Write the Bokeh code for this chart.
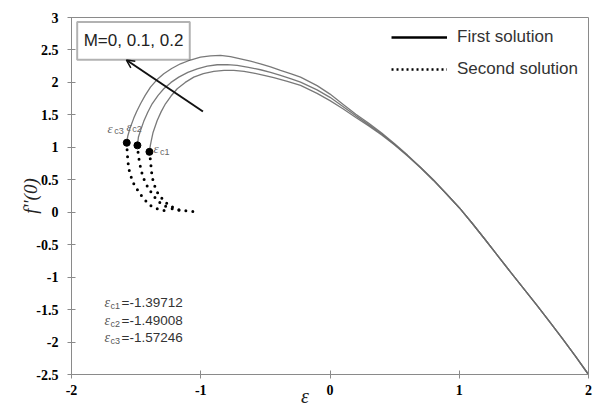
from bokeh.plotting import figure
from bokeh.models import (Range1d, FixedTicker, CustomJSTickFormatter, Legend, LegendItem,
                          Arrow, OpenHead, BoxAnnotation, Label)
from bokeh.embed import file_html
from bokeh.resources import INLINE
from bokeh.core.properties import value

# ---------------- data ----------------
M_values = [0, 0.1, 0.2]
eps_c = [-1.39712, -1.49008, -1.57246]
f_c = [0.93, 1.03, 1.07]
crit_names = ["c1", "c2", "c3"]

x_ticks = [-2, -1, 0, 1, 2]
y_ticks = [-2.5, -2, -1.5, -1, -0.5, 0, 0.5, 1, 1.5, 2, 2.5, 3]

# shared right-hand part of the first solutions
eps_tail = [0.9, 1.0, 1.1, 1.2, 1.3, 1.4, 1.5, 1.6, 1.7, 1.8, 1.9, 2.0]
f_tail = [0.285, 0.07, -0.17, -0.42, -0.675, -0.93, -1.18, -1.43, -1.69, -1.95, -2.22, -2.5]

# first (upper) solutions
eps_u0 = [-1.39712, -1.390, -1.383, -1.369, -1.337, -1.306, -1.273, -1.230, -1.182, -1.120,
          -1.054, -0.980, -0.899, -0.820, -0.744, -0.665, -0.590, -0.510, -0.435, -0.330,
          -0.228, -0.1, 0.0, 0.1, 0.2, 0.3, 0.4, 0.5, 0.6, 0.7, 0.8]
f_u0 = [0.93, 1.03, 1.10, 1.229, 1.414, 1.55, 1.671, 1.79, 1.902, 2.00,
        2.081, 2.135, 2.170, 2.185, 2.185, 2.170, 2.143, 2.110, 2.072, 2.015,
        1.953, 1.83, 1.72, 1.595, 1.46, 1.33, 1.19, 1.035, 0.865, 0.685, 0.49]

eps_u1 = [-1.49008, -1.482, -1.466, -1.441, -1.410, -1.376, -1.330, -1.286, -1.230, -1.170,
          -1.100, -1.027, -0.950, -0.873, -0.795, -0.718, -0.630, -0.538, -0.460, -0.383,
          -0.300, -0.228, -0.1, 0.0, 0.1, 0.2, 0.3, 0.4, 0.5, 0.6, 0.7, 0.8]
f_u1 = [1.03, 1.16, 1.26, 1.40, 1.54, 1.671, 1.80, 1.902, 2.00, 2.081,
        2.155, 2.21, 2.250, 2.272, 2.275, 2.261, 2.232, 2.195, 2.153, 2.108,
        2.055, 2.004, 1.885, 1.77, 1.63, 1.485, 1.35, 1.205, 1.045, 0.872, 0.69, 0.495]

eps_u2 = [-1.57246, -1.565, -1.548, -1.518, -1.494, -1.466, -1.430, -1.389, -1.340, -1.286,
          -1.225, -1.157, -1.080, -1.002, -0.925, -0.847, -0.770, -0.693, -0.615, -0.538,
          -0.460, -0.383, -0.300, -0.228, -0.1, 0.0, 0.1, 0.2, 0.3, 0.4, 0.5, 0.6, 0.7, 0.8]
f_u2 = [1.07, 1.17, 1.29, 1.45, 1.56, 1.671, 1.80, 1.927, 2.04, 2.133,
        2.215, 2.287, 2.345, 2.389, 2.408, 2.415, 2.397, 2.364, 2.328, 2.287,
        2.238, 2.184, 2.132, 2.081, 1.95, 1.82, 1.665, 1.51, 1.37, 1.22, 1.055, 0.88, 0.695, 0.50]

# second (lower) solutions
eps_l0 = [-1.39712, -1.389, -1.383, -1.376, -1.358, -1.337, -1.298, -1.247, -1.170, -1.092, -1.023]
f_l0 = [0.93, 0.797, 0.669, 0.540, 0.412, 0.309, 0.207, 0.104, 0.038, 0.016, 0.001]

eps_l1 = [-1.49008, -1.484, -1.474, -1.461, -1.441, -1.410, -1.376, -1.337, -1.286, -1.221, -1.15]
f_l1 = [1.03, 0.901, 0.771, 0.643, 0.515, 0.386, 0.284, 0.181, 0.104, 0.053, 0.02]

eps_l2 = [-1.57246, -1.569, -1.564, -1.557, -1.538, -1.518, -1.479, -1.441, -1.389, -1.337, -1.27]
f_l2 = [1.07, 0.925, 0.797, 0.669, 0.539, 0.437, 0.309, 0.206, 0.104, 0.053, 0.02]

upper = [(eps_u0, f_u0), (eps_u1, f_u1), (eps_u2, f_u2)]
lower = [(eps_l0, f_l0), (eps_l1, f_l1), (eps_l2, f_l2)]

# ---------------- figure ----------------
p = figure(frame_width=517, frame_height=357, output_backend="svg", toolbar_location=None,
           x_range=Range1d(-2, 2), y_range=Range1d(-2.5, 3),
           min_border_left=71, min_border_right=6, min_border_top=17, min_border_bottom=37)
p.grid.visible = False
p.outline_line_color = "#8a8a8a"
p.outline_line_width = 1
p.background_fill_color = "white"
p.border_fill_color = "white"

for ax in (p.xaxis[0], p.yaxis[0]):
    ax.axis_line_color = "#8a8a8a"
    ax.major_tick_line_color = "#8a8a8a"
    ax.major_tick_in = 4
    ax.major_tick_out = 4
    ax.minor_tick_line_color = None
    ax.major_label_text_font = "Liberation Serif"
    ax.major_label_text_font_style = "bold"
    ax.major_label_text_font_size = "14px"
    ax.major_label_text_color = "black"
    ax.formatter = CustomJSTickFormatter(code="return tick.toString();")
    ax.axis_label_text_font = "Liberation Serif"
    ax.axis_label_text_font_style = "italic"
    ax.axis_label_text_color = "#222"

p.xaxis.ticker = FixedTicker(ticks=x_ticks)
p.yaxis.ticker = FixedTicker(ticks=y_ticks)
p.xaxis.major_label_standoff = 6
p.yaxis.major_label_standoff = 9

# axis titles (the x title sits left of centre in the original; padded with no-break spaces)
p.xaxis.axis_label = "\u03b5" + "\u00a0" * 10
p.xaxis.axis_label_text_font_size = "20px"
p.xaxis.axis_label_standoff = -13
p.yaxis.axis_label = "f''(0)"
p.yaxis.axis_label_text_font_size = "19px"
p.yaxis.axis_label_standoff = -8

# curves
for ex, fx in upper:
    p.line(ex + eps_tail, fx + f_tail, line_color="#6a6a6a", line_width=1.3, line_alpha=0.9)
for ex, fx in lower:
    p.line(ex, fx, line_color="black", line_width=3, line_dash="0 7", line_cap="round")

p.scatter(eps_c, f_c, size=7, color="black")

# labels near critical points
pt_eps_x = [-1.366, -1.574, -1.721]
pt_eps_y = [0.982, 1.321, 1.290]
pt_sub_x = [-1.315, -1.530, -1.670]
pt_sub_y = [0.921, 1.275, 1.244]
p.text(pt_eps_x, pt_eps_y, text=["\u03b5"] * 3, text_font=value("Liberation Serif"),
       text_font_style="italic", text_font_size="13px", text_color="#666",
       text_baseline="middle", text_align="left")
p.text(pt_sub_x, pt_sub_y, text=crit_names, text_font=value("Liberation Sans"),
       text_font_size="9px", text_color="#666", text_baseline="middle", text_align="left")

# bottom-left critical values
rows_y = [-1.391, -1.668, -1.930]
p.text([-1.745] * 3, rows_y, text=["\u03b5"] * 3, text_font=value("Liberation Serif"),
       text_font_style="italic", text_font_size="14px", text_color="#555",
       text_baseline="middle", text_align="left")
p.text([-1.698] * 3, [y - 0.06 for y in rows_y], text=crit_names, text_font=value("Liberation Sans"),
       text_font_size="9px", text_color="#555", text_baseline="middle", text_align="left")
p.text([-1.613] * 3, rows_y, text=["=%.5f" % e for e in eps_c], text_font=value("Liberation Sans"),
       text_font_size="13.5px", text_color="#333", text_baseline="middle", text_align="left")

# M box and arrow
p.add_layout(BoxAnnotation(left=-1.956, right=-1.085, top=2.93, bottom=2.35,
                           fill_alpha=0, line_color="black", line_width=2))
p.add_layout(Label(x=-1.52, y=2.64, text="M=" + ", ".join(str(m) for m in M_values),
                   text_align="center", text_baseline="middle", text_font="Liberation Sans",
                   text_font_size="17px", text_color="#222"))
p.add_layout(Arrow(end=OpenHead(size=8, line_width=1.5, line_color="#111"),
                   x_start=-0.983, y_start=1.552, x_end=-1.575, y_end=2.345,
                   line_width=2, line_color="#111"))

# legend (sample renderers kept outside the visible range)
r1 = p.line([10, 11], [10, 10], line_color="black", line_width=2.5)
r2 = p.line([10, 11], [10, 10], line_color="black", line_width=2.5, line_dash="2 3")
legend = Legend(items=[LegendItem(label="First solution", renderers=[r1]),
                       LegendItem(label="Second solution", renderers=[r2])],
                location="top_right", margin=10, padding=0, spacing=12,
                glyph_width=56, glyph_height=20, label_height=20, label_standoff=10,
                label_text_font="Liberation Sans", label_text_font_size="17px",
                label_text_color="#333", border_line_color=None, background_fill_alpha=0)
p.add_layout(legend)

open("out.html", "w").write(file_html(p, INLINE))
